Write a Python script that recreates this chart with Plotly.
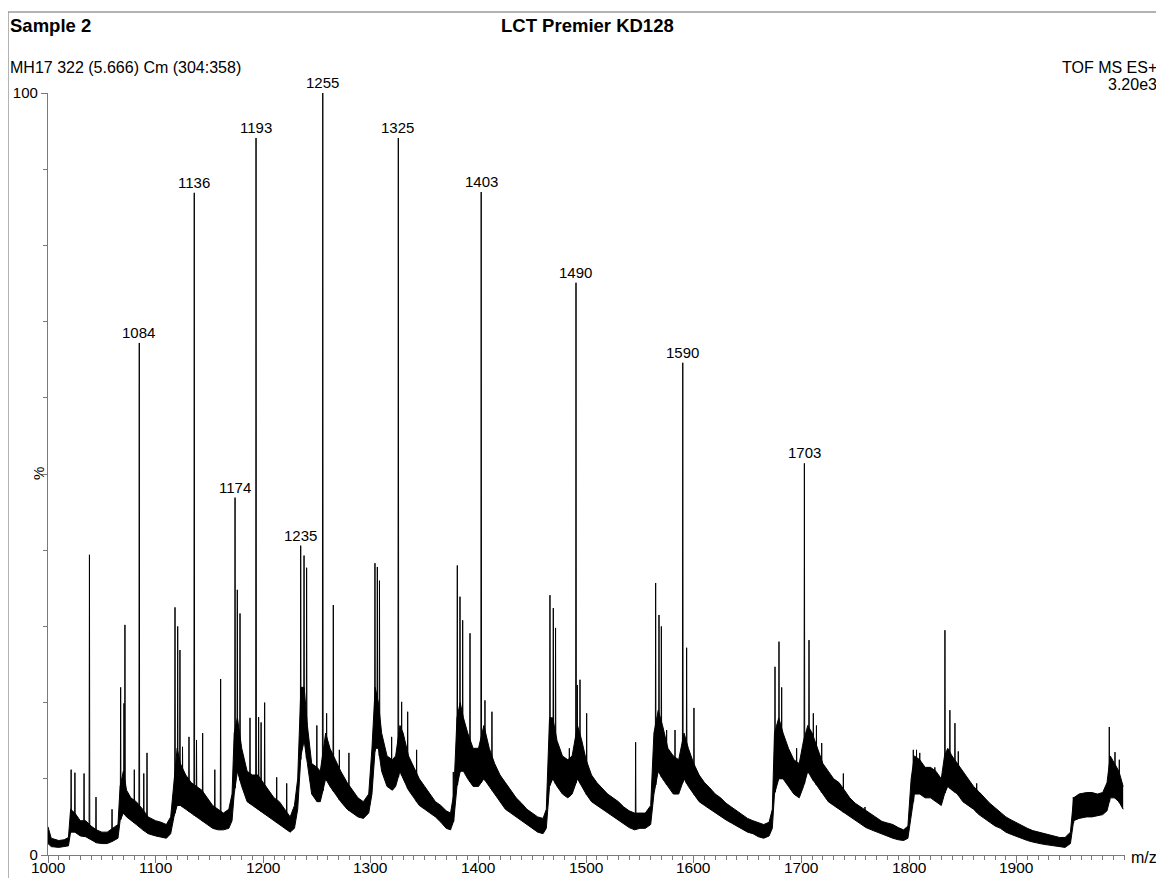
import numpy as np
import plotly.graph_objects as go

# ---- data ----
# noise band (m/z, lower edge %, upper edge %)
band_mz = [1000, 1003, 1010, 1015, 1019, 1021, 1025, 1030, 1035, 1040, 1045, 1050, 1055, 1060, 1065,
           1067, 1070, 1073, 1077, 1082, 1088, 1093, 1100, 1105, 1110, 1114, 1117, 1120, 1123, 1128,
           1133, 1138, 1143, 1148, 1153, 1158, 1163, 1168, 1171, 1173, 1176, 1180, 1185, 1190, 1195,
           1200, 1205, 1210, 1215, 1220, 1225, 1229, 1232, 1235, 1238, 1241, 1245, 1250, 1253, 1258,
           1262, 1267, 1272, 1278, 1283, 1288, 1293, 1298, 1301, 1304, 1307, 1310, 1315, 1320, 1323,
           1327, 1330, 1335, 1340, 1345, 1350, 1355, 1360, 1365, 1370, 1374, 1377, 1380, 1383, 1386,
           1390, 1395, 1400, 1405, 1410, 1415, 1420, 1425, 1430, 1435, 1440, 1445, 1450, 1455, 1460,
           1463, 1466, 1469, 1473, 1478, 1483, 1487, 1492, 1496, 1500, 1505, 1510, 1515, 1520, 1525,
           1530, 1535, 1540, 1545, 1550, 1555, 1560, 1563, 1567, 1571, 1576, 1581, 1586, 1591, 1595,
           1600, 1605, 1610, 1615, 1620, 1625, 1630, 1635, 1640, 1645, 1650, 1655, 1660, 1665, 1670,
           1673, 1675, 1679, 1683, 1688, 1693, 1698, 1702, 1706, 1710, 1715, 1720, 1725, 1730, 1735,
           1740, 1745, 1750, 1755, 1760, 1765, 1770, 1775, 1780, 1785, 1790, 1795, 1799, 1802, 1805,
           1810, 1815, 1820, 1825, 1830, 1833, 1836, 1840, 1845, 1850, 1855, 1860, 1865, 1870, 1875,
           1880, 1885, 1890, 1895, 1900, 1905, 1910, 1915, 1920, 1925, 1930, 1935, 1940, 1945, 1950,
           1953, 1958, 1965, 1970, 1975, 1980, 1984, 1987, 1991, 1995, 1999]
band_low = [1.5, 1.1, 1.0, 1.1, 1.2, 3.0, 3.0, 2.5, 2.4, 2.0, 1.6, 1.5, 1.5, 1.8, 2.2,
            4.5, 5.5, 5.0, 4.6, 4.0, 3.3, 2.8, 2.5, 2.3, 2.2, 2.8, 5.0, 6.5, 6.5, 6.0,
            5.5, 5.0, 4.5, 4.0, 3.5, 3.3, 3.3, 3.5, 4.5, 8.0, 11.0, 9.0, 7.0, 6.5, 6.0,
            5.5, 5.0, 4.5, 4.0, 3.5, 3.0, 3.5, 6.0, 13.0, 15.0, 12.0, 8.0, 7.0, 7.0, 10.0,
            9.0, 8.0, 7.0, 6.0, 5.5, 5.0, 4.8, 5.5, 8.0, 14.0, 14.0, 11.0, 9.0, 8.5, 9.0,
            11.0, 10.0, 8.5, 7.5, 6.5, 6.0, 5.5, 5.0, 4.3, 3.5, 3.3, 4.5, 9.0, 11.0, 11.0,
            10.0, 9.0, 9.0, 10.0, 9.0, 8.0, 7.0, 6.0, 5.5, 5.0, 4.5, 4.0, 3.5, 3.0, 2.8,
            3.5, 9.0, 10.0, 9.0, 8.0, 7.5, 8.0, 10.0, 9.0, 8.0, 7.0, 6.5, 6.0, 5.5, 5.0,
            4.5, 4.0, 3.6, 3.3, 3.5, 3.5, 4.0, 8.0, 11.0, 10.0, 9.0, 8.0, 8.0, 10.0, 9.0,
            8.0, 7.0, 6.5, 6.0, 5.5, 5.0, 4.6, 4.2, 3.8, 3.4, 3.0, 2.8, 2.4, 2.2, 2.5,
            3.5, 8.0, 10.0, 10.0, 9.0, 8.0, 7.5, 9.0, 11.0, 10.0, 9.0, 8.0, 7.0, 6.5, 6.0,
            5.5, 5.0, 4.5, 4.0, 3.6, 3.3, 3.0, 2.7, 2.4, 2.2, 2.0, 1.9, 2.2, 5.0, 8.0,
            8.0, 7.5, 7.5, 7.0, 6.5, 8.0, 9.0, 8.5, 8.0, 7.0, 6.5, 6.0, 5.3, 4.8, 4.3,
            3.8, 3.5, 3.0, 2.7, 2.4, 2.1, 1.9, 1.7, 1.5, 1.4, 1.3, 1.2, 1.1, 1.0, 1.5,
            4.5, 4.8, 5.0, 5.0, 5.2, 5.3, 5.8, 7.5, 7.5, 7.0, 6.0]
band_high = [3.7, 2.2, 1.9, 2.0, 2.3, 6.0, 5.5, 4.5, 4.5, 3.8, 3.3, 3.0, 3.0, 3.5, 4.0,
             9.0, 11.0, 8.5, 7.5, 7.0, 6.0, 5.0, 4.5, 4.3, 4.0, 5.0, 10.0, 14.0, 12.0, 10.5,
             9.5, 9.0, 8.5, 7.5, 6.5, 6.0, 5.5, 6.0, 8.0, 16.0, 18.0, 14.0, 11.0, 10.5, 10.5,
             9.5, 8.5, 7.5, 7.0, 6.0, 5.0, 6.5, 10.0, 22.0, 22.0, 17.0, 12.0, 11.5, 11.0, 16.0,
             14.0, 12.5, 11.0, 9.5, 8.5, 7.5, 7.0, 8.0, 14.0, 22.0, 20.0, 16.0, 13.0, 12.5, 13.0,
             17.0, 16.0, 13.0, 11.5, 10.0, 9.0, 8.0, 7.0, 6.5, 5.8, 5.5, 8.0, 18.0, 20.0, 18.0,
             16.0, 14.0, 14.0, 17.0, 14.0, 12.0, 10.5, 9.5, 8.5, 7.5, 6.8, 6.0, 5.5, 5.0, 4.8,
             6.0, 18.0, 18.0, 15.0, 13.0, 12.5, 13.0, 17.0, 15.0, 12.5, 10.5, 9.5, 8.8, 8.0, 7.5,
             7.0, 6.3, 5.8, 5.5, 5.5, 5.5, 6.5, 16.0, 19.0, 17.0, 14.0, 13.0, 12.5, 16.0, 14.0,
             12.0, 10.5, 9.5, 8.8, 8.0, 7.5, 6.8, 6.3, 5.8, 5.3, 4.8, 4.5, 4.2, 4.0, 4.3,
             6.0, 16.0, 18.0, 16.0, 14.0, 12.5, 12.0, 15.0, 17.0, 16.0, 14.0, 12.0, 11.0, 10.0, 9.5,
             8.5, 7.5, 6.8, 6.3, 5.8, 5.3, 4.8, 4.4, 4.2, 4.0, 3.6, 3.3, 3.8, 10.0, 13.0,
             12.5, 11.5, 11.5, 11.0, 10.0, 13.0, 14.0, 13.0, 12.0, 11.0, 10.0, 9.0, 8.3, 7.5, 6.8,
             6.2, 5.6, 5.0, 4.6, 4.2, 3.8, 3.5, 3.2, 3.0, 2.8, 2.6, 2.4, 2.3, 2.3, 3.0,
             7.5, 8.0, 8.2, 8.2, 8.0, 8.2, 9.5, 13.0, 12.0, 11.0, 9.0]

# spikes (m/z, relative intensity %)
peak_mz = [1021.5, 1025.0, 1033.5, 1038.5, 1044.6, 1059.5, 1067.5, 1070.6, 1071.5, 1080.2,
           1084.8, 1089.0, 1092.0, 1118.0, 1120.5, 1122.6, 1125.0, 1131.0, 1135.9, 1138.0,
           1143.7, 1155.0, 1160.4, 1173.8, 1175.9, 1178.4, 1187.7, 1193.3, 1195.7, 1198.0,
           1201.3, 1212.5, 1221.8, 1234.8, 1237.9, 1240.3, 1249.8, 1255.3, 1258.9, 1265.1,
           1270.7, 1279.6, 1303.8, 1306.0, 1308.0, 1319.3, 1325.5, 1328.6, 1334.2, 1342.5,
           1376.6, 1380.3, 1382.8, 1385.3, 1392.1, 1402.5, 1406.0, 1412.5, 1466.4, 1469.5,
           1471.6, 1482.0, 1484.4, 1490.6, 1491.8, 1494.3, 1500.5, 1546.0, 1564.6, 1567.7,
           1569.9, 1574.8, 1582.6, 1589.8, 1593.4, 1600.2, 1675.5, 1679.2, 1681.7, 1695.6,
           1702.8, 1707.1, 1711.1, 1714.0, 1718.9, 1739.0, 1759.1, 1804.0, 1807.0, 1810.0,
           1824.0, 1833.4, 1838.0, 1842.7, 1845.8, 1862.9, 1952.7, 1986.1, 1991.4, 1995.4]
peak_int = [11.2, 10.8, 10.7, 39.4, 7.6, 6.0, 22.0, 19.9, 30.2, 11.2,
            67.2, 10.7, 13.4, 32.5, 30.0, 26.9, 14.2, 15.5, 86.9, 15.1,
            16.0, 11.2, 23.1, 46.9, 34.8, 31.7, 18.0, 94.1, 18.1, 17.4,
            20.0, 10.2, 9.4, 40.6, 39.3, 37.7, 17.0, 100.0, 18.6, 32.8,
            13.8, 13.4, 38.3, 37.8, 36.0, 15.5, 94.1, 20.1, 18.8, 13.8,
            10.9, 38.0, 33.9, 30.8, 29.1, 87.0, 20.3, 18.8, 34.1, 32.4,
            29.8, 12.5, 14.0, 75.1, 22.3, 23.0, 18.6, 14.8, 35.7, 31.5,
            30.0, 16.4, 16.4, 64.6, 27.2, 19.3, 24.7, 28.0, 22.0, 14.0,
            51.4, 28.2, 18.6, 17.0, 14.7, 10.7, 6.3, 13.8, 13.8, 13.4,
            11.5, 29.5, 19.0, 17.3, 13.6, 9.4, 7.6, 16.8, 13.5, 12.5]

# labelled peaks
label_mz = [1084, 1136, 1174, 1193, 1235, 1255, 1325, 1403, 1490, 1590, 1703]
label_int = [67.2, 86.9, 46.9, 94.1, 40.6, 100.0, 94.1, 87.0, 75.1, 64.6, 51.4]

x_ticks = [1000, 1100, 1200, 1300, 1400, 1500, 1600, 1700, 1800, 1900]
y_ticks = [0, 50, 100]
y_ticktext = ["0", "", "100"]

# ---- build figure ----
FONT = "Liberation Sans, Arial, sans-serif"
OFF = 8                      # page body margin in the browser
W, H = 1164 - OFF, 878 - OFF
# plot area in page pixels: left 48, right 1125, top 93, bottom 855
L = 48 - OFF
T = 93 - OFF
R = W - (1125 - OFF)
B = H - (855 - OFF)
PW, PH = W - L - R, H - T - B


def pxx(x):  # page pixel -> paper
    return (x - OFF - L) / PW


def pyy(y):
    return (H - B - (y - OFF)) / PH


fig = go.Figure()
fig.add_trace(go.Scatter(x=band_mz, y=band_low, mode="lines",
                         line=dict(color="black", width=1), hoverinfo="skip"))
fig.add_trace(go.Scatter(x=band_mz, y=band_high, mode="lines",
                         line=dict(color="black", width=1), fill="tonexty",
                         fillcolor="black", hoverinfo="skip"))

sx, sy = [], []
for m, h in zip(peak_mz, peak_int):
    base = float(np.interp(m, band_mz, band_low))
    sx += [m - 0.35, m, m + 0.35, None]
    sy += [base, h, base, None]
fig.add_trace(go.Scatter(x=sx, y=sy, mode="lines",
                         line=dict(color="black", width=1), hoverinfo="skip"))

annotations = []
for m, h in zip(label_mz, label_int):
    annotations.append(dict(x=m, y=h, xref="x", yref="y", text=str(m), showarrow=False,
                            yanchor="bottom", yshift=0, font=dict(family=FONT, size=15, color="black")))

# x tick labels (drawn as annotations so they sit just under the short ticks)
for v in x_ticks:
    annotations.append(dict(x=v, y=pyy(867), xref="x", yref="paper", text=str(v), showarrow=False,
                            xanchor="center", yanchor="middle",
                            font=dict(family=FONT, size=15.5, color="black")))

annotations += [
    dict(x=pxx(8), y=pyy(25), xref="paper", yref="paper", text="<b>Sample 2</b>",
         xanchor="left", yanchor="middle", showarrow=False,
         font=dict(family=FONT, size=18.5, color="black")),
    dict(x=pxx(587), y=pyy(25), xref="paper", yref="paper", text="<b>LCT Premier KD128</b>",
         xanchor="center", yanchor="middle", showarrow=False,
         font=dict(family=FONT, size=18.5, color="black")),
    dict(x=pxx(8), y=pyy(68), xref="paper", yref="paper", text="MH17 322 (5.666) Cm (304:358)",
         xanchor="left", yanchor="middle", showarrow=False,
         font=dict(family=FONT, size=16, color="black")),
    dict(x=pxx(1159), y=pyy(68), xref="paper", yref="paper", text="TOF MS ES+",
         xanchor="right", yanchor="middle", showarrow=False,
         font=dict(family=FONT, size=16, color="black")),
    dict(x=pxx(1159), y=pyy(85), xref="paper", yref="paper", text="3.20e3",
         xanchor="right", yanchor="middle", showarrow=False,
         font=dict(family=FONT, size=16, color="black")),
    dict(x=pxx(38), y=pyy(474), xref="paper", yref="paper", text="%", textangle=-90,
         xanchor="center", yanchor="middle", showarrow=False,
         font=dict(family=FONT, size=15, color="black")),
    dict(x=pxx(1129), y=pyy(857), xref="paper", yref="paper", text="m/z",
         xanchor="left", yanchor="middle", showarrow=False,
         font=dict(family=FONT, size=16, color="black")),
]

shapes = [dict(type="rect", xref="paper", yref="paper",
               x0=pxx(8), x1=pxx(1162), y0=pyy(900), y1=pyy(12),
               line=dict(color="#9a9a9a", width=1.5), fillcolor="rgba(0,0,0,0)", layer="below")]

axis_common = dict(ticks="outside", tickcolor="#7a7a7a", tickwidth=1,
                   showline=True, linecolor="#7a7a7a", linewidth=1.2,
                   showgrid=False, zeroline=False, automargin=False,
                   tickfont=dict(family=FONT, size=15, color="black"))

fig.update_layout(
    width=W, height=H,
    margin=dict(l=L, r=R, t=T, b=B, pad=0, autoexpand=False),
    paper_bgcolor="white", plot_bgcolor="white",
    showlegend=False,
    font=dict(family=FONT, size=15, color="black"),
    annotations=annotations, shapes=shapes,
    xaxis=dict(range=[1000, 2000.7], tickvals=x_ticks, showticklabels=False,
               ticklen=7,
               minor=dict(dtick=10, tick0=1000, ticks="outside", ticklen=4,
                          tickcolor="#7a7a7a", showgrid=False),
               **axis_common),
    yaxis=dict(range=[0, 100], tickvals=y_ticks, ticktext=y_ticktext,
               ticklen=6,
               minor=dict(dtick=10, tick0=0, ticks="outside", ticklen=4,
                          tickcolor="#7a7a7a", showgrid=False),
               **axis_common),
)

fig.write_html("out.html")
